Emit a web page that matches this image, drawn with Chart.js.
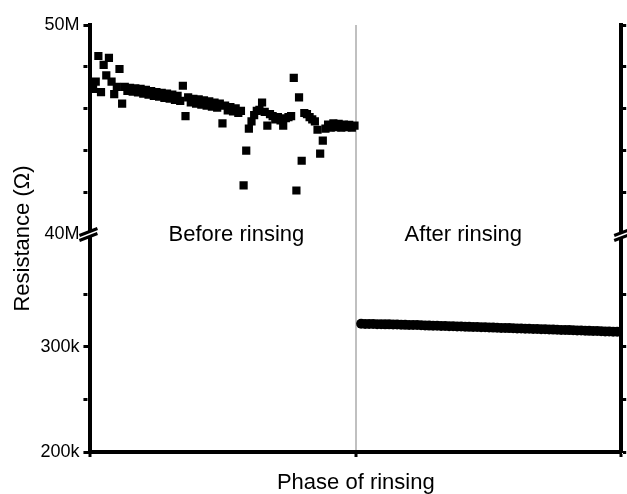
<!DOCTYPE html>
<html>
<head>
<meta charset="utf-8">
<script src="https://cdn.jsdelivr.net/npm/chart.js@4/dist/chart.umd.min.js"></script>
<style>
  body { margin: 0; background: #fff; }
  #wrap { width: 627px; height: 494px; }
</style>
</head>
<body>
<div id="wrap"><canvas id="chart" width="627" height="494"></canvas></div>
<script>
// resistance before rinsing, in MOhm
const beforeValues = [
  46.95, 47.30, 48.52, 46.80, 48.10, 47.60, 48.43, 47.30, 46.70, 47.05,
  47.90, 46.25, 47.05, 46.85, 47.00, 46.82, 46.98, 46.78, 46.95, 46.72,
  46.90, 46.68, 46.85, 46.62, 46.80, 46.58, 46.76, 46.52, 46.72, 46.48,
  46.68, 46.42, 46.62, 46.38, 47.10, 45.65, 46.55, 46.30, 46.48, 46.25,
  46.45, 46.20, 46.40, 46.15, 46.35, 46.10, 46.30, 46.05, 46.25, 45.30,
  46.15, 45.92, 46.08, 45.88, 46.02, 45.80, 45.90, 42.35, 44.00, 45.05,
  45.40, 45.70, 45.90, 45.95, 46.30, 45.85, 45.20, 45.75, 45.65, 45.50,
  45.60, 45.45, 45.20, 45.55, 45.60, 45.65, 47.48, 42.10, 46.55, 43.52,
  45.80, 45.75, 45.60, 45.50, 45.40, 45.00, 43.86, 44.48, 45.05, 45.25,
  45.10, 45.30, 45.12, 45.28, 45.10, 45.25, 45.12, 45.24, 45.10, 45.20
];

// resistance after rinsing, in kOhm
const afterValues = [
  322.0, 321.9, 321.8, 321.8, 321.7, 321.6, 321.5, 321.5, 321.4, 321.3,
  321.1, 321.0, 320.9, 320.8, 320.8, 320.6, 320.4, 320.3, 320.2, 320.1,
  320.0, 319.9, 319.7, 319.6, 319.5, 319.4, 319.3, 319.1, 319.0, 318.9,
  318.8, 318.7, 318.5, 318.4, 318.3, 318.1, 318.0, 317.9, 317.8, 317.6,
  317.5, 317.4, 317.3, 317.1, 317.0, 316.9, 316.8, 316.6, 316.5, 316.4,
  316.2, 316.1, 316.0, 315.9, 315.7, 315.6, 315.5, 315.3, 315.2, 315.1,
  314.9, 314.8, 314.7, 314.5, 314.4, 314.3
];

const phaseNames = ['Before rinsing', 'After rinsing'];
// x range of each phase on the phase axis
const beforeRange = [0.01, 0.995];
const afterRange = [1.02, 2.0];

// tick positions of the two parts of the broken axis
const topTicks = [40000000, 42000000, 44000000, 46000000, 48000000, 50000000];
const bottomTicks = [200000, 250000, 300000, 350000];
const topTickLabels = { 50000000: '50M', 40000000: '40M' };
const bottomTickLabels = { 300000: '300k', 200000: '200k' };

function spread(values, range, scale) {
  const n = values.length;
  return values.map((v, i) => ({
    x: range[0] + (range[1] - range[0]) * i / (n - 1),
    y: v * scale
  }));
}

const font = { family: 'Arial, "Liberation Sans", sans-serif', size: 18 };

// labelled ticks are long, the others only show their inner part
function minorDash(labels) {
  return ctx => (ctx.tick && labels[ctx.tick.value] ? [] : [4, 100]);
}

function fixedTicks(values) {
  return scale => { scale.ticks = values.map(v => ({ value: v })); };
}

// draws the "//" axis break marks and the phase labels
const breakPlugin = {
  id: 'breaks',
  afterDraw(chart) {
    const ctx = chart.ctx;
    const yb = chart.scales.yTop.bottom;
    const xs = [chart.chartArea.left - 2, chart.chartArea.right + 2];
    ctx.save();
    xs.forEach(x => {
      ctx.fillStyle = '#fff';
      ctx.beginPath();
      ctx.moveTo(x - 9, yb + 1);
      ctx.lineTo(x + 9, yb - 6);
      ctx.lineTo(x + 9, yb - 1);
      ctx.lineTo(x - 9, yb + 6);
      ctx.closePath();
      ctx.fill();
      ctx.strokeStyle = '#000';
      ctx.lineWidth = 3;
      ctx.beginPath();
      ctx.moveTo(x - 9, yb + 1);
      ctx.lineTo(x + 9, yb - 6);
      ctx.moveTo(x - 9, yb + 6);
      ctx.lineTo(x + 9, yb - 1);
      ctx.stroke();
    });
    ctx.fillStyle = '#000';
    ctx.font = '22px Arial, "Liberation Sans", sans-serif';
    ctx.textAlign = 'center';
    ctx.textBaseline = 'middle';
    const xScale = chart.scales.x;
    ctx.fillText(phaseNames[0], xScale.getPixelForValue(0.55), yb);
    ctx.fillText(phaseNames[1], xScale.getPixelForValue(1.405), yb);
    ctx.restore();
  }
};

const ctx = document.getElementById('chart').getContext('2d');
const chart = new Chart(ctx, {
  type: 'scatter',
  data: {
    datasets: [
      {
        label: 'Before rinsing',
        data: spread(beforeValues, beforeRange, 1e6),
        yAxisID: 'yTop',
        pointStyle: 'rect',
        pointRadius: 5.8,
        backgroundColor: '#000',
        borderColor: '#000',
        borderWidth: 0
      },
      {
        label: 'After rinsing',
        data: spread(afterValues, afterRange, 1e3),
        yAxisID: 'yBot',
        pointStyle: 'circle',
        pointRadius: 5,
        backgroundColor: '#000',
        borderColor: '#000',
        borderWidth: 0
      }
    ]
  },
  options: {
    responsive: false,
    animation: false,
    layout: { padding: { top: 25, left: 5, right: 0, bottom: 0 } },
    plugins: {
      legend: { display: false },
      tooltip: { enabled: false }
    },
    scales: {
      // left side: boxes are laid out in reverse order, so the lower part comes first
      yBot: {
        type: 'linear',
        position: 'left',
        stack: 'left',
        stackWeight: 218,
        min: 200000,
        max: 407000,
        afterBuildTicks: fixedTicks(bottomTicks),
        ticks: {
          color: '#000',
          font: font,
          padding: 4,
          autoSkip: false,
          callback: v => bottomTickLabels[v] || ''
        },
        grid: {
          drawOnChartArea: false,
          tickLength: 7,
          tickWidth: 3,
          tickColor: '#000',
          tickBorderDash: minorDash(bottomTickLabels)
        },
        border: { color: '#000', width: 4 }
      },
      yTop: {
        type: 'linear',
        position: 'left',
        stack: 'left',
        stackWeight: 210,
        min: 40000000,
        max: 50000000,
        afterBuildTicks: fixedTicks(topTicks),
        ticks: {
          color: '#000',
          font: font,
          padding: 4,
          autoSkip: false,
          callback: v => topTickLabels[v] || ''
        },
        grid: {
          drawOnChartArea: false,
          tickLength: 7,
          tickWidth: 3,
          tickColor: '#000',
          tickBorderDash: minorDash(topTickLabels)
        },
        border: { color: '#000', width: 4 }
      },
      yTitle: {
        type: 'linear',
        position: 'left',
        min: 0,
        max: 1,
        ticks: { display: false },
        grid: { display: false, drawTicks: false },
        border: { display: false },
        title: {
          display: true,
          text: 'Resistance (Ω)',
          color: '#000',
          font: { family: font.family, size: 22 },
          padding: { top: 5, bottom: 0 }
        }
      },
      yTopR: {
        type: 'linear',
        position: 'right',
        stack: 'right',
        stackWeight: 210,
        min: 40000000,
        max: 50000000,
        afterBuildTicks: fixedTicks(topTicks),
        ticks: { display: false },
        grid: { drawOnChartArea: false, tickLength: 5, tickWidth: 3, tickColor: '#000' },
        border: { color: '#000', width: 4 }
      },
      yBotR: {
        type: 'linear',
        position: 'right',
        stack: 'right',
        stackWeight: 218,
        min: 200000,
        max: 407000,
        afterBuildTicks: fixedTicks(bottomTicks),
        ticks: { display: false },
        grid: { drawOnChartArea: false, tickLength: 5, tickWidth: 3, tickColor: '#000' },
        border: { color: '#000', width: 4 }
      },
      x: {
        type: 'linear',
        position: 'bottom',
        min: 0,
        max: 2,
        ticks: { stepSize: 1, display: false },
        grid: {
          drawOnChartArea: true,
          color: c => (c.tick && c.tick.value === 1 ? '#c0c0c0' : 'rgba(0,0,0,0)'),
          lineWidth: 2,
          tickLength: 5,
          tickWidth: 3,
          tickColor: '#000'
        },
        border: { color: '#000', width: 4 },
        title: {
          display: true,
          text: 'Phase of rinsing',
          color: '#000',
          font: { family: font.family, size: 22, lineHeight: 1 },
          padding: { top: 15, bottom: 0 }
        }
      }
    }
  },
  plugins: [breakPlugin]
});
</script>
</body>
</html>
